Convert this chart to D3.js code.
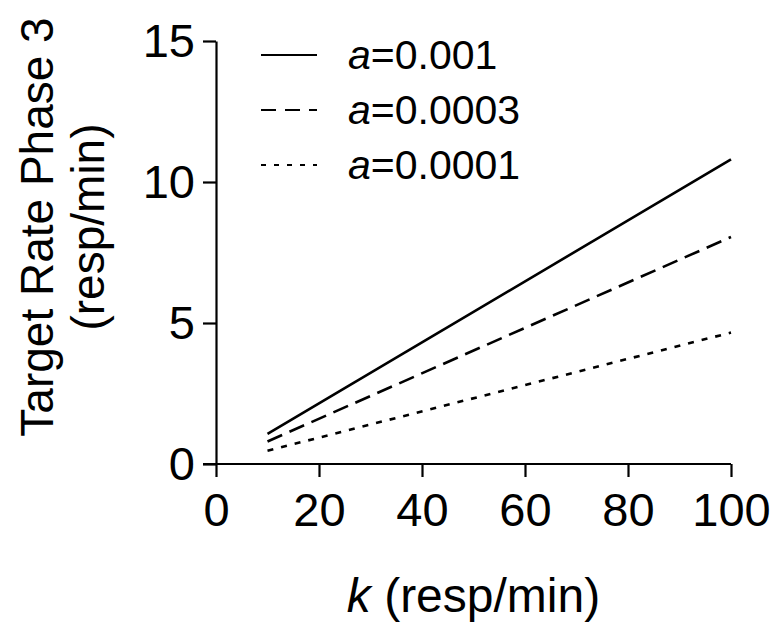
<!DOCTYPE html>
<html>
<head>
<meta charset="utf-8">
<script src="https://cdn.jsdelivr.net/npm/d3@7"></script>
<style>
  body { margin: 0; background: #fff; }
  text { font-family: "Liberation Sans", Arial, sans-serif; fill: #000; }
</style>
</head>
<body>
<div id="chart"></div>
<script>
const kValues = [10, 100];
const seriesNames = ["a=0.001", "a=0.0003", "a=0.0001"];
const aLabels = ["0.001", "0.0003", "0.0001"];
const rateA001 = [1.07, 10.8];
const rateA0003 = [0.8, 8.05];
const rateA0001 = [0.47, 4.66];
const xTicks = [0, 20, 40, 60, 80, 100];
const yTicks = [0, 5, 10, 15];

const series = [rateA001, rateA0003, rateA0001];
const dashes = [null, "16,8", "6,8"];
const legendDashes = [null, "15,9", "5,8"];

const svg = d3.select('#chart')
  .append('svg')
    .attr('width', 778)
    .attr('height', 629);

const margin = {top: 41, right: 47, bottom: 165, left: 216};
const graphWidth = 778 - margin.left - margin.right;
const graphHeight = 629 - margin.top - margin.bottom;

const graph = svg.append('g')
  .attr('transform', `translate(${margin.left},${margin.top})`);

const x = d3.scaleLinear()
  .domain([0, 100])
  .range([0, graphWidth]);

const y = d3.scaleLinear()
  .domain([0, 15])
  .range([graphHeight, 0]);

const xAxisGroup = graph.append('g')
  .attr('transform', `translate(0,${graphHeight})`)
  .call(d3.axisBottom(x).tickValues(xTicks).tickSize(13).tickSizeOuter(0).tickPadding(16));

const yAxisGroup = graph.append('g')
  .call(d3.axisLeft(y).tickValues(yTicks).tickSize(13).tickSizeOuter(0).tickPadding(8));

graph.selectAll('.domain, .tick line')
  .attr('stroke', '#000')
  .attr('stroke-width', 2.2);

// extend x axis leftwards so the y=0 tick joins it
xAxisGroup.select('.domain').remove();
xAxisGroup.append('line')
  .attr('x1', -13).attr('x2', x(100))
  .attr('stroke', '#000').attr('stroke-width', 2.2);

graph.selectAll('.tick text')
  .attr('font-size', 47)
  .attr('font-family', '"Liberation Sans", Arial, sans-serif')
  .attr('fill', '#000');

const line = d3.line()
  .x((d, i) => x(kValues[i]))
  .y(d => y(d));

graph.selectAll('path.series')
  .data(series)
  .enter()
  .append('path')
    .attr('class', 'series')
    .attr('d', d => line(d))
    .attr('fill', 'none')
    .attr('stroke', '#000')
    .attr('stroke-width', 2.6)
    .attr('stroke-dasharray', (d, i) => dashes[i]);

// legend
const legend = svg.append('g')
  .attr('transform', 'translate(261,55)');

const rows = legend.selectAll('g')
  .data(seriesNames)
  .enter()
  .append('g')
    .attr('transform', (d, i) => `translate(0,${i * 55})`);

rows.append('line')
  .attr('x1', 0).attr('x2', 56)
  .attr('stroke', '#000')
  .attr('stroke-width', 2.2)
  .attr('stroke-dasharray', (d, i) => legendDashes[i]);

const lt = rows.append('text')
  .attr('x', 87)
  .attr('y', 14)
  .attr('font-size', 41);
lt.append('tspan').attr('font-style', 'italic').text('a');
lt.append('tspan').text((d, i) => '=' + aLabels[i]);

// axis titles
const xTitle = svg.append('text')
  .attr('x', margin.left + graphWidth / 2)
  .attr('y', 612)
  .attr('text-anchor', 'middle')
  .attr('font-size', 48);
xTitle.append('tspan').attr('font-style', 'italic').text('k');
xTitle.append('tspan').text(' (resp/min)');

const yTitle = svg.append('text')
  .attr('transform', 'translate(0,227) rotate(-90)')
  .attr('text-anchor', 'middle')
  .attr('font-size', 46);
yTitle.append('tspan').attr('x', 0).attr('y', 53).text('Target Rate Phase 3');
yTitle.append('tspan').attr('x', 0).attr('y', 104).text('(resp/min)');
</script>
</body>
</html>
